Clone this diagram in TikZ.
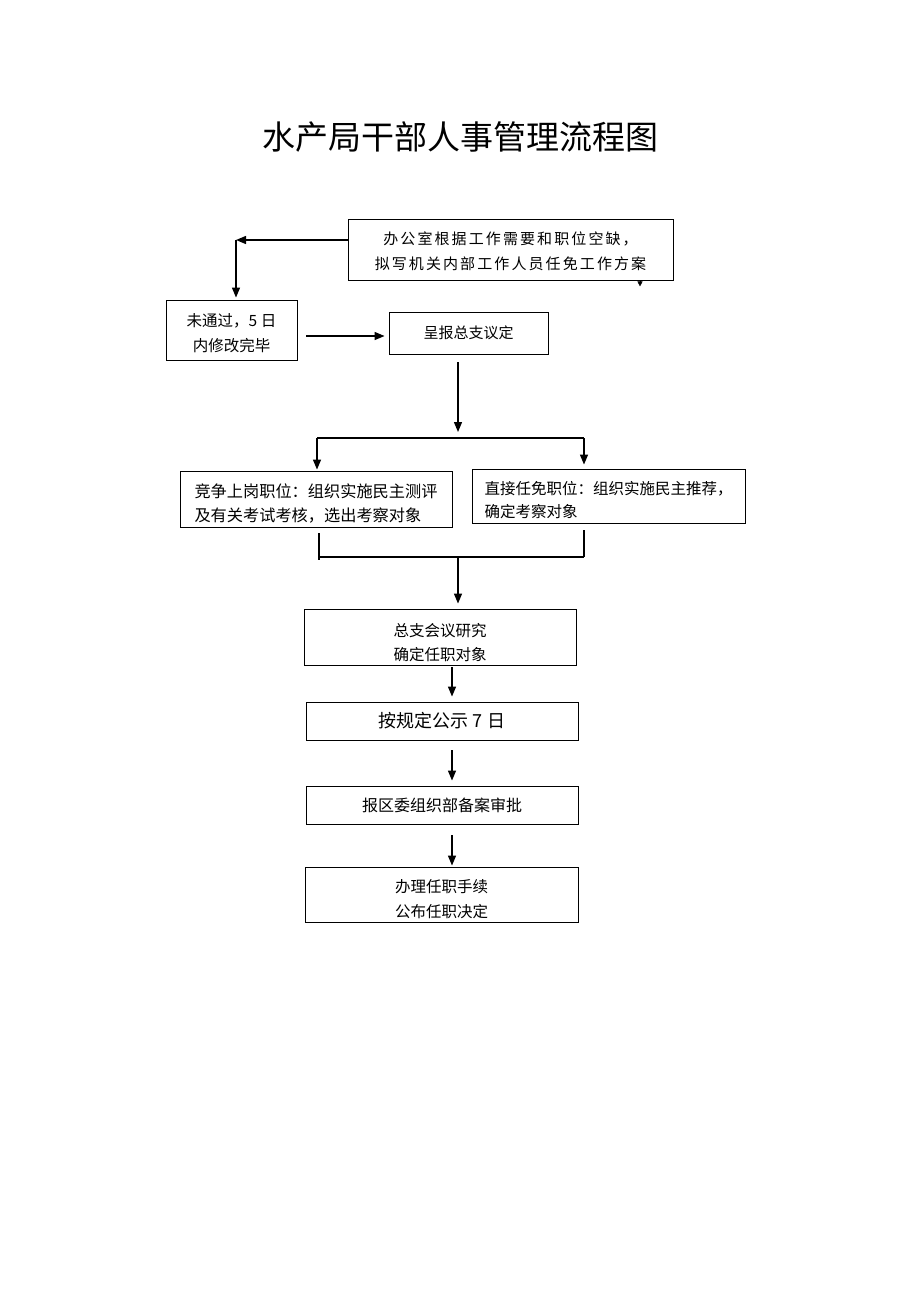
\documentclass[tikz,border=0pt]{standalone}
\usepackage{fontspec}
\setmainfont{Liberation Serif}
\newfontfamily\cjk{Noto Sans CJK SC}
\newfontfamily\cjkwide[LetterSpace=14]{Noto Sans CJK SC}
\newcommand\lowr[1]{\rule{0pt}{#1}}
\usetikzlibrary{arrows.meta}
\begin{document}
\begin{tikzpicture}[x=1pt,y=-1pt,
  box/.style={draw,line width=0.9pt,inner sep=0pt,align=center,font=\cjk\fontsize{15}{24.5}\selectfont},
  arr/.style={-{Triangle[length=10pt,width=8pt]},line width=1.3pt},
  ln/.style={line width=1.3pt}]
\useasboundingbox (0,0) rectangle (920,1302);
\node[font=\cjk\fontsize{33}{33}\selectfont] (title) at (460,137) {水产局干部人事管理流程图};

\node[box,minimum width=325pt,minimum height=61pt,font=\cjkwide\fontsize{15}{25}\selectfont] (top) at (510.5,249.5) {\lowr{17pt}办公室根据工作需要和职位空缺，\\拟写机关内部工作人员任免工作方案};
\node[box,minimum width=131pt,minimum height=60pt,font=\cjk\fontsize{15.5}{25}\selectfont] (fail) at (231.5,330) {\lowr{18.5pt}未通过，5 日\\内修改完毕};
\node[box,minimum width=159pt,minimum height=42pt] (report) at (468.5,333) {呈报总支议定};
\node[box,minimum width=272pt,minimum height=56pt,align=left,font=\cjk\fontsize{16.2}{24}\selectfont] (comp) at (316,499) {\lowr{23pt}竞争上岗职位：组织实施民主测评\\及有关考试考核，选出考察对象};
\node[box,minimum width=273pt,minimum height=54pt,align=left,font=\cjk\fontsize{15.5}{23}\selectfont,text width=248pt] (direct) at (608.5,496) {\lowr{21.5pt}直接任免职位：组织实施民主推荐，\\确定考察对象};
\node[box,minimum width=272pt,minimum height=56pt,font=\cjk\fontsize{15.5}{24}\selectfont] (study) at (440,637) {\lowr{23.5pt}总支会议研究\\确定任职对象};
\node[box,minimum width=272pt,minimum height=38pt,font=\cjk\fontsize{18}{20}\selectfont] (public) at (442,721) {按规定公示 7 日};
\node[box,minimum width=272pt,minimum height=38pt,font=\cjk\fontsize{16}{20}\selectfont] (file) at (442,805) {报区委组织部备案审批};
\node[box,minimum width=273pt,minimum height=55pt,font=\cjk\fontsize{15.5}{25}\selectfont] (finish) at (441.5,894.5) {\lowr{21.5pt}办理任职手续\\公布任职决定};

% top -> fail
\coordinate (k1) at (236,240);
\draw[arr] ([yshift=9.5pt]top.west) -- (k1);
\draw[arr] (k1) -- ([yshift=2pt]k1 |- fail.north);
\draw[-{Triangle[length=5pt,width=5pt]},line width=0.5pt] (top.south -| 640,0) -- ++(0,6);

% fail -> report
\draw[arr] ([shift={(9pt,-6pt)}]fail.east) -- ([shift={(-4pt,-3pt)}]report.west);

% report -> split
\coordinate (s1) at (458,438);
\coordinate (sl) at (317,438);
\coordinate (sr) at (584,438);
\draw[arr] ([yshift=-8pt]report.south -| s1) -- ([yshift=6pt]s1);
\draw[ln] (sl) -- (sr);
\draw[arr] (sl) -- ([yshift=1pt]sl |- comp.north);
\draw[arr] (sr) -- ([yshift=4pt]sr |- direct.north);

% merge
\coordinate (ml) at (319,557);
\coordinate (mr) at (584,557);
\coordinate (mm) at (458,557);
\draw[ln] ([yshift=-6pt]comp.south -| ml) -- ([yshift=-3pt]ml);
\draw[ln] ([yshift=-7pt]direct.south -| mr) -- (mr);
\draw[ln] (ml) -- (mr);
\draw[arr] (mm) -- ([yshift=5pt]mm |- study.north);

% chain
\draw[arr] ([yshift=-2pt]study.south -| 452,0) -- ([yshift=5pt]public.north -| 452,0);
\draw[arr] ([yshift=-10pt]public.south -| 452,0) -- ([yshift=5pt]file.north -| 452,0);
\draw[arr] ([yshift=-11pt]file.south -| 452,0) -- ([yshift=1pt]finish.north -| 452,0);
\end{tikzpicture}
\end{document}
